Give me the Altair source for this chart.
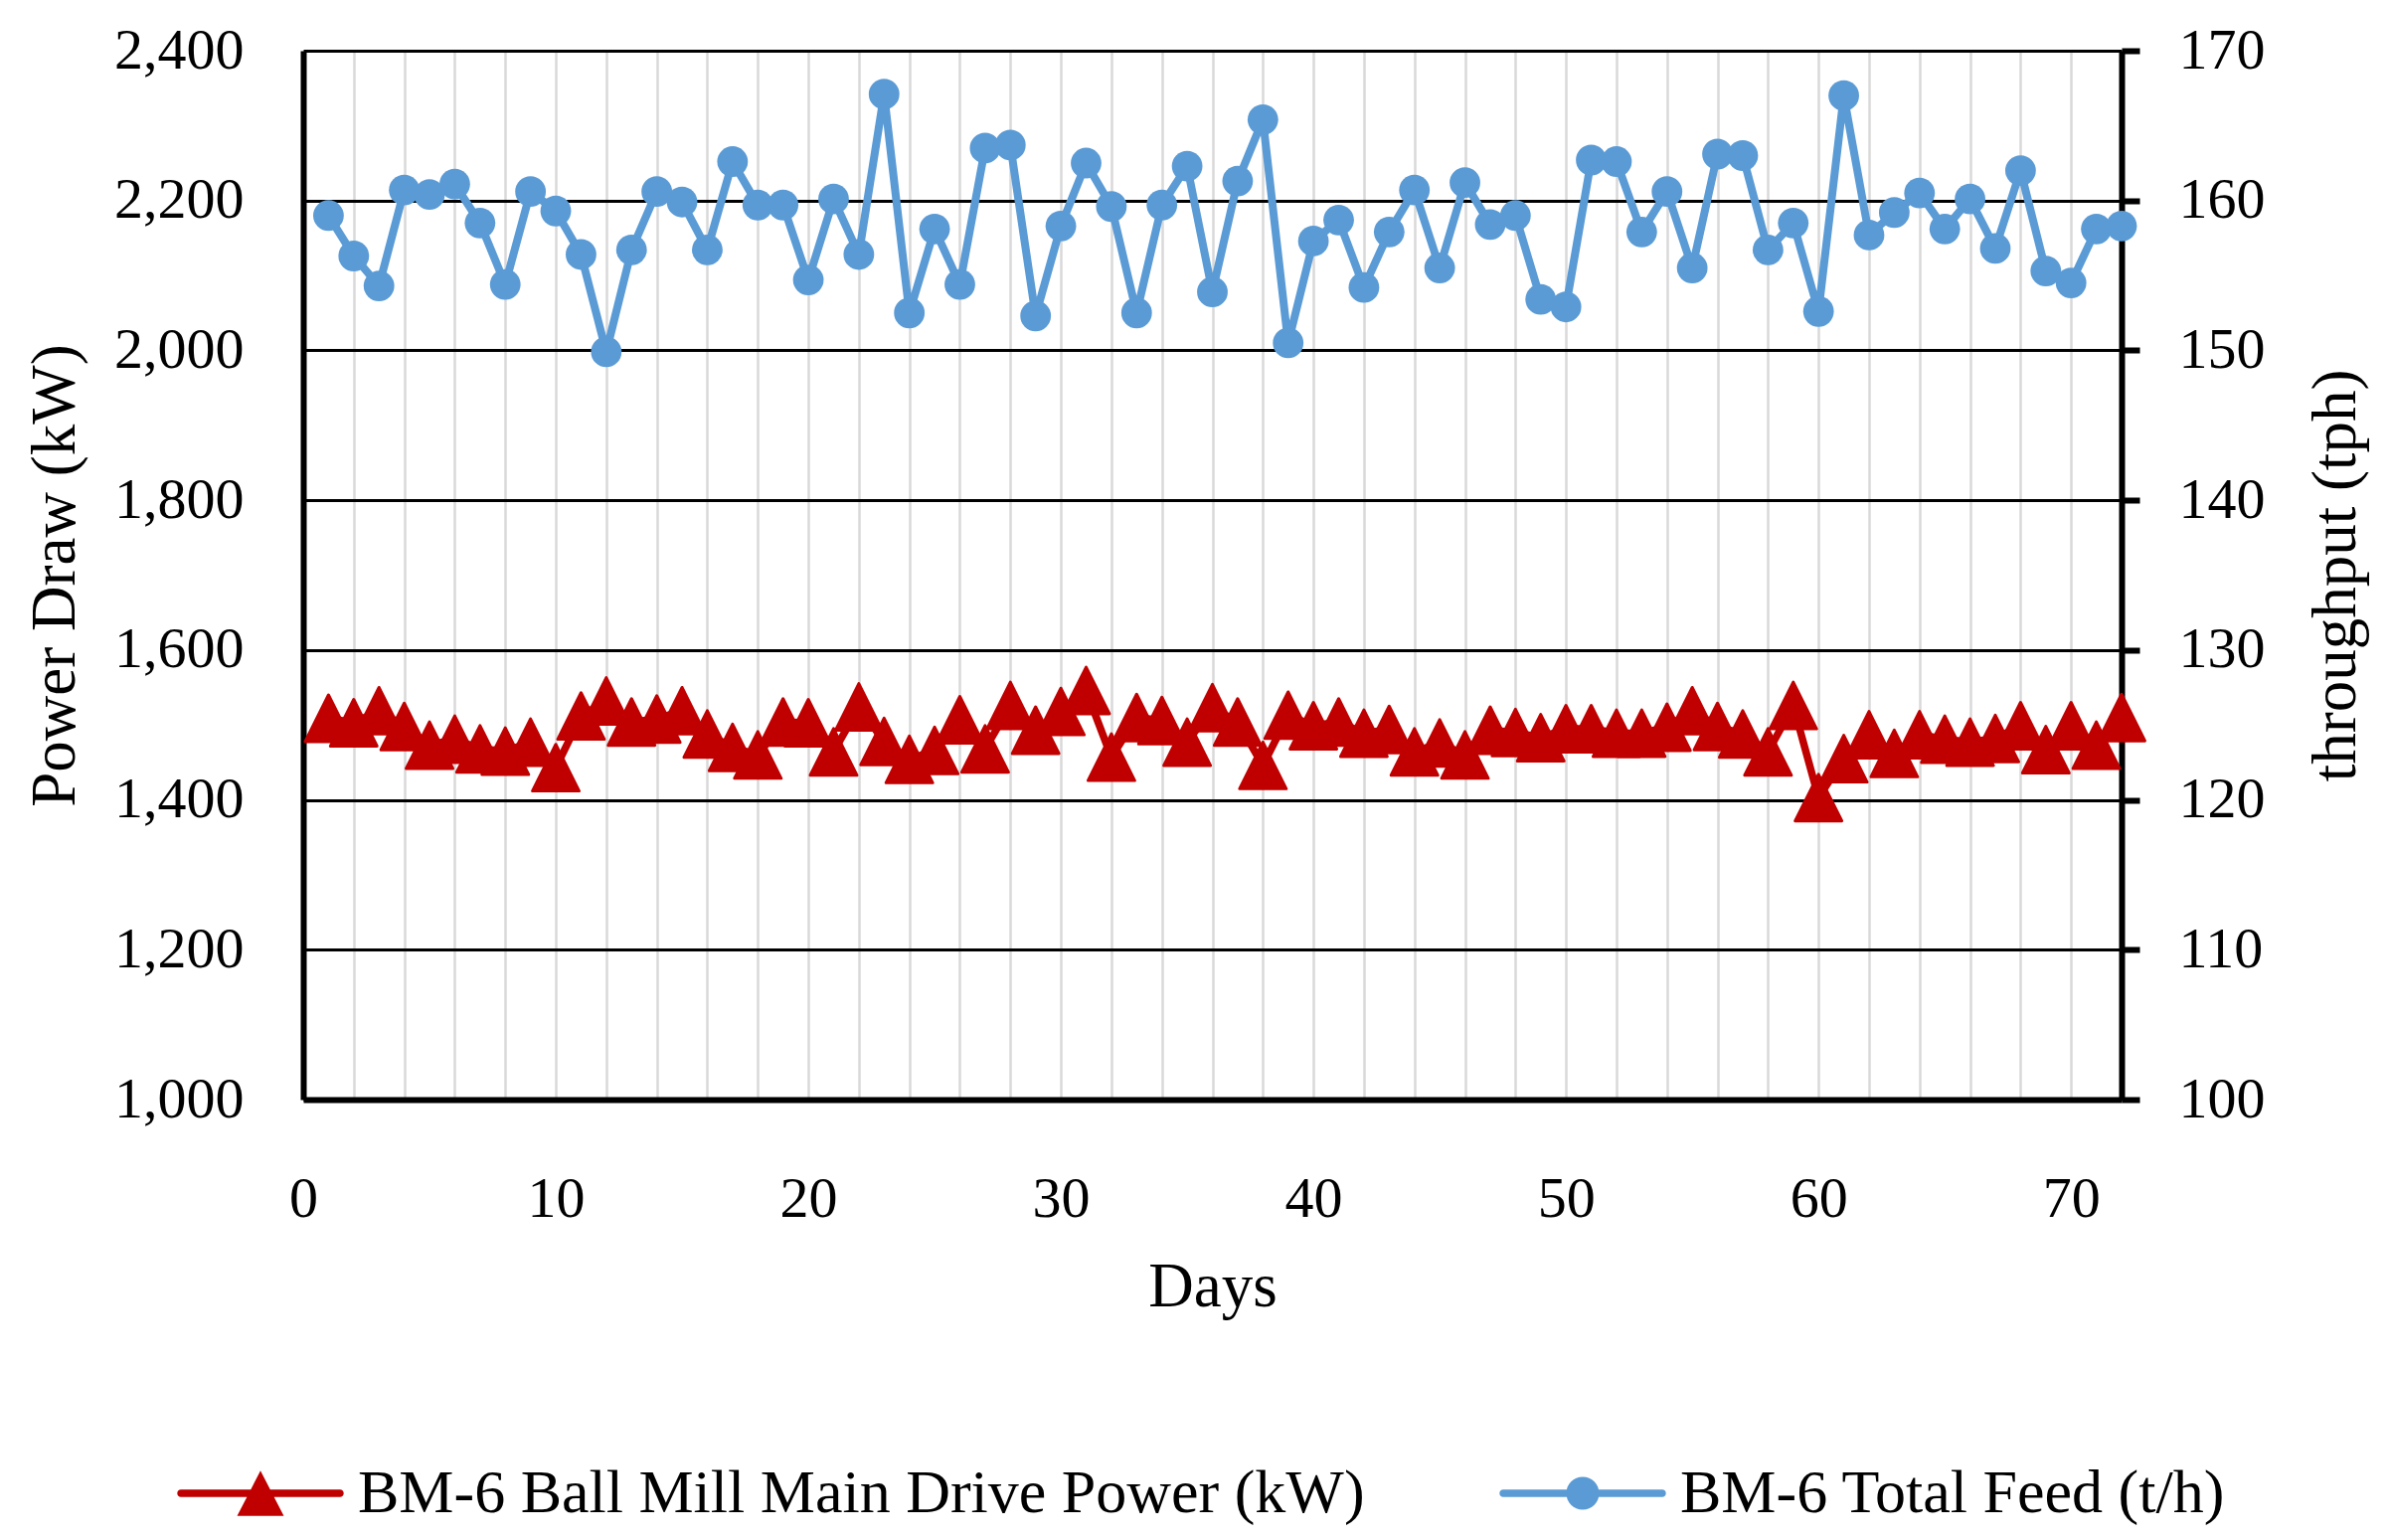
import altair as alt
import pandas as pd

# ---------------- data ----------------
days = list(range(1, 73))

power_kw = [
    1509, 1503, 1519, 1498, 1473, 1481, 1468, 1465, 1477, 1443, 1512, 1532, 1504, 1508, 1519, 1488, 1470, 1460,
    1504, 1503, 1464, 1524, 1478, 1454, 1466, 1507, 1468, 1526, 1493, 1518, 1546, 1457, 1510, 1506, 1477, 1523,
    1504, 1446, 1513, 1499, 1504, 1489, 1494, 1464, 1476, 1460, 1493, 1490, 1483, 1495, 1495, 1489, 1489, 1497,
    1519, 1498, 1488, 1464, 1526, 1403, 1455, 1487, 1462, 1487, 1481, 1477, 1482, 1499, 1467, 1499, 1473, 1510,
]

feed_tph = [
    159.0, 156.3, 154.3, 160.7, 160.4, 161.1, 158.5, 154.4, 160.6, 159.3, 156.4, 149.9, 156.7, 160.6, 159.9, 156.7, 162.6, 159.7,
    159.7, 154.7, 160.1, 156.4, 167.1, 152.5, 158.1, 154.4, 163.5, 163.7, 152.3, 158.3, 162.5, 159.6, 152.5, 159.7, 162.3, 153.9,
    161.3, 165.4, 150.5, 157.3, 158.7, 154.2, 157.9, 160.7, 155.5, 161.2, 158.4, 159.0, 153.4, 152.9, 162.7, 162.6, 157.9, 160.6,
    155.5, 163.1, 163.0, 156.7, 158.5, 152.6, 167.0, 157.7, 159.2, 160.5, 158.1, 160.1, 156.8, 162.0, 155.3, 154.5, 158.1, 158.3,
]

series_names = ["BM-6 Ball Mill Main Drive Power (kW)", "BM-6 Total Feed (t/h)"]

x_ticks = list(range(0, 73, 2))
left_ticks = list(range(1000, 2401, 200))
right_ticks = list(range(100, 171, 10))

# ---------------- styling ----------------
RED = "#C00000"
BLUE = "#5B9BD5"
FONT = "Liberation Serif"
TICK_FS = 58
TITLE_FS = 63
W, H = 1829, 1055

tri_path = "M0,-1L1,1L-1,1Z"
legend_red = ("M-3,-0.14L3,-0.14A0.14,0.14,0,0,1,3,0.14L-3,0.14A0.14,0.14,0,0,1,-3,-0.14Z"
              "M0,-0.85L0.88,0.85L-0.88,0.85Z")
legend_blue = ("M-3,-0.14L3,-0.14A0.14,0.14,0,0,1,3,0.14L-3,0.14A0.14,0.14,0,0,1,-3,-0.14Z"
               "M0.62,0A0.62,0.62,0,1,1,-0.62,0A0.62,0.62,0,1,1,0.62,0Z")

df = pd.DataFrame({"day": days, "power": power_kw, "feed": feed_tph})
legend_df = pd.DataFrame({"series": series_names})

x_enc = alt.X(
    "day:Q",
    scale=alt.Scale(domain=[0, 72], nice=False, zero=False),
    axis=alt.Axis(
        values=x_ticks,
        labelExpr="datum.value % 10 === 0 ? datum.label : ''",
        labelOverlap=False,
        labelFlush=False,
        grid=True,
        gridColor="#D9D9D9",
        gridWidth=2.5,
        ticks=False,
        tickSize=0,
        domainColor="black",
        domainWidth=6,
        labelFont=FONT,
        labelFontSize=TICK_FS,
        labelColor="black",
        labelPadding=117,
        labelBaseline="alphabetic",
        title="Days",
        titleFont=FONT,
        titleFontSize=TITLE_FS,
        titleFontWeight="normal",
        titleColor="black",
        titleBaseline="alphabetic",
        titleAlign="center",
        titleX=W / 2,
        titleY=207,
    ),
)

y_left = alt.Y(
    "power:Q",
    scale=alt.Scale(domain=[1000, 2400], nice=False, zero=False),
    axis=alt.Axis(
        orient="left",
        values=left_ticks,
        format=",.0f",
        grid=True,
        gridColor="black",
        gridWidth=3,
        ticks=False,
        tickSize=0,
        domainColor="black",
        domainWidth=6,
        labelFont=FONT,
        labelFontSize=TICK_FS,
        labelColor="black",
        labelPadding=60,
        labelFlush=False,
        title="Power Draw (kW)",
        titleFont=FONT,
        titleFontSize=TITLE_FS,
        titleFontWeight="normal",
        titleColor="black",
        titleAngle=270,
        titleBaseline="alphabetic",
        titleAlign="center",
        titleX=-231,
        titleY=H / 2,
    ),
)

y_right = alt.Y(
    "feed:Q",
    scale=alt.Scale(domain=[100, 170], nice=False, zero=False),
    axis=alt.Axis(
        orient="right",
        values=right_ticks,
        format="d",
        grid=False,
        ticks=True,
        tickSize=18,
        tickWidth=6,
        tickColor="black",
        domainColor="black",
        domainWidth=6,
        labelFont=FONT,
        labelFontSize=TICK_FS,
        labelColor="black",
        labelPadding=39,
        labelAlign="left",
        labelFlush=False,
        title="throughput (tph)",
        titleFont=FONT,
        titleFontSize=TITLE_FS,
        titleFontWeight="normal",
        titleColor="black",
        titleAngle=270,
        titleBaseline="alphabetic",
        titleAlign="center",
        titleX=234,
        titleY=H / 2,
    ),
)

red = alt.Chart(df).mark_line(
    color=RED,
    strokeWidth=7.5,
    point=alt.OverlayMarkDef(
        shape=tri_path, size=2200, filled=True, color=RED,
        stroke=RED, strokeWidth=3, strokeJoin="round", opacity=1,
    ),
).encode(x=x_enc, y=y_left)

legend_def = alt.Legend(
    orient="none",
    legendX=-74,
    legendY=1420,
    direction="horizontal",
    columns=2,
    symbolSize=2844,
    symbolStrokeWidth=0,
    symbolOpacity=1,
    labelFont=FONT,
    labelFontSize=62,
    labelColor="black",
    labelOffset=67,
    labelLimit=3000,
    columnPadding=135,
    padding=0,
)

legend_layer = alt.Chart(legend_df).mark_point(filled=True, opacity=0).encode(
    x=alt.value(0),
    y=alt.value(0),
    color=alt.Color("series:N", scale=alt.Scale(domain=series_names, range=[RED, BLUE]),
                    legend=legend_def, title=None),
    shape=alt.Shape("series:N", scale=alt.Scale(domain=series_names, range=[legend_red, legend_blue]),
                    legend=legend_def, title=None),
)

blue = alt.Chart(df).mark_line(
    color=BLUE,
    strokeWidth=8,
    point=alt.OverlayMarkDef(shape="circle", size=950, filled=True, color=BLUE, opacity=1),
).encode(x=x_enc, y=y_right)

left = alt.layer(red, legend_layer)

chart = alt.layer(left, blue).resolve_scale(y="independent").properties(
    width=W,
    height=H,
    autosize=alt.AutoSizeParams(type="none"),
    padding={"left": 297, "top": 43, "right": 261, "bottom": 435},
    background="white",
).configure_view(strokeWidth=0)

chart.save("out.html", embed_options={"renderer": "svg", "actions": False})
